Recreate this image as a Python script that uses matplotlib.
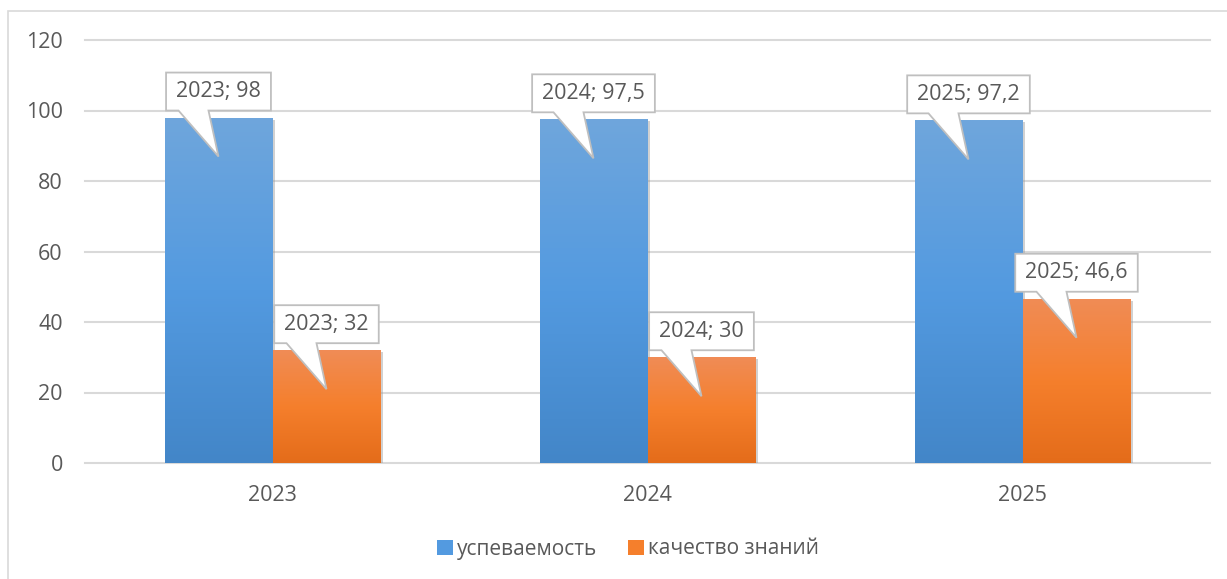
import matplotlib
matplotlib.use("Agg")
import matplotlib.pyplot as plt
import numpy as np
from matplotlib.patches import Polygon, Rectangle
from matplotlib.transforms import IdentityTransform, offset_copy
from matplotlib.colors import to_rgb

plt.rcParams['font.family'] = ['Open Sans', 'DejaVu Sans']

categories = ["2023", "2024", "2025"]
series_names = ["успеваемость", "качество знаний"]
uspev = [98, 97.5, 97.2]
kachestvo = [32, 30, 46.6]
uspev_labels = ["2023; 98", "2024; 97,5", "2025; 97,2"]
kach_labels = ["2023; 32", "2024; 30", "2025; 46,6"]
yticks = [0, 20, 40, 60, 80, 100, 120]

TXT = "#595959"
GRID = "#D9D9D9"
blue_stops = ["#6FA6DC", "#539AE0", "#4386C8"]
orange_stops = ["#F08C56", "#F57F2C", "#E46C1A"]

W, H = 1227, 579
fig = plt.figure(figsize=(W / 100, H / 100), dpi=100)
fig.patch.set_facecolor("white")

# chart frame
fig.add_artist(Rectangle((8 / W, -0.05), 1.1, 1 - 11 / H + 0.05, transform=fig.transFigure,
                         fill=False, edgecolor=GRID, lw=1.2))

ax = fig.add_axes([85 / W, 1 - 463 / H, (1210 - 85) / W, (463 - 40) / H])
ax.set_xlim(-0.5, 2.5)
ax.set_ylim(0, 120)
ax.set_yticks(yticks)
ax.set_xticks(range(len(categories)))
ax.set_xticklabels(categories)
for s in ["top", "right", "left", "bottom"]:
    ax.spines[s].set_visible(False)
ax.tick_params(axis="both", length=0, colors=TXT, labelsize=15.5)
ax.tick_params(axis="y", pad=16)
ax.tick_params(axis="x", pad=16)
ax.grid(axis="y", color=GRID, lw=1.5)
ax.set_axisbelow(True)
for gl in ax.get_ygridlines():
    gl.set_clip_on(False)

x = np.arange(len(categories))
bw = 0.288


def gradient_img(stops):
    c = np.array([to_rgb(s) for s in stops])
    t = np.linspace(0, 1, 200)
    r = np.interp(t, [0, 0.5, 1], c[:, 0])
    g = np.interp(t, [0, 0.5, 1], c[:, 1])
    b = np.interp(t, [0, 0.5, 1], c[:, 2])
    return np.stack([r, g, b], axis=1)[:, None, :]


shadow_tr = offset_copy(ax.transData, fig=fig, x=2.5, y=-2, units="dots")

bars_all = []
for vals, stops, off, name in [(uspev, blue_stops, -bw / 2, series_names[0]),
                               (kachestvo, orange_stops, bw / 2, series_names[1])]:
    bars = ax.bar(x + off, vals, width=bw, color=stops[1], label=name, zorder=2)
    img = gradient_img(stops)
    for b in bars:
        x0, y0 = b.get_x(), b.get_y()
        w, h = b.get_width(), b.get_height()
        sh = Rectangle((x0, y0), w, h, transform=shadow_tr, facecolor="#9a9a9a",
                       alpha=0.45, edgecolor="none", zorder=1.5)
        ax.add_patch(sh)
        im = ax.imshow(img, extent=(x0, x0 + w, y0, y0 + h), aspect="auto",
                       origin="upper", zorder=2.1, interpolation="bilinear")
        im.set_clip_path(b)
    bars_all.append(bars)

ax.set_xlim(-0.5, 2.5)
ax.set_ylim(0, 120)

fig.canvas.draw()
renderer = fig.canvas.get_renderer()

for bars, labels in [(bars_all[0], uspev_labels), (bars_all[1], kach_labels)]:
    for b, lab in zip(bars, labels):
        xc = b.get_x() + b.get_width() / 2
        v = b.get_height()
        cx, ty = ax.transData.transform((xc, v))
        t = fig.text(cx / W, (ty + 26) / H, lab, ha="center", va="center",
                     fontsize=15.5, color=TXT, zorder=10)
        ext = t.get_window_extent(renderer)
        bwid = ext.width + 20
        L, R = cx - bwid / 2, cx + bwid / 2
        B, T = ty + 7, ty + 45
        pts = [(L, B), (cx - 40, B), (cx, ty - 39), (cx - 10, B), (R, B), (R, T), (L, T)]
        poly = Polygon(pts, closed=True, transform=IdentityTransform(), facecolor="white",
                       edgecolor="#BFBFBF", lw=1.3, zorder=9, clip_on=False)
        fig.add_artist(poly)

leg = fig.legend(loc="center", bbox_to_anchor=(628 / W, 1 - 549 / H), ncol=2, frameon=False,
                 fontsize=15, handlelength=0.75, handleheight=0.7, handletextpad=0.2,
                 columnspacing=1.5, labelcolor=TXT)

fig.savefig("out.png", dpi=100, facecolor="white")
